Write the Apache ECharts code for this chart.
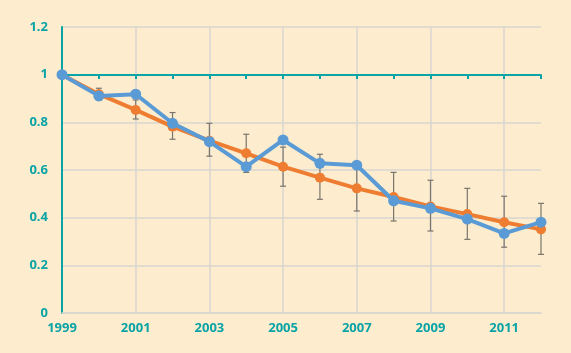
<!DOCTYPE html>
<html><head><meta charset="utf-8">
<script src="https://cdn.jsdelivr.net/npm/echarts@6/dist/echarts.min.js"></script>
<style>html,body{margin:0;padding:0;background:#FDEDCE;}#c{width:571px;height:353px;}</style>
</head><body><div id="c"></div>
<script>
const years = ['1999','2000','2001','2002','2003','2004','2005','2006','2007','2008','2009','2010','2011','2012'];
const trend = [1.0, 0.918, 0.852, 0.782, 0.723, 0.670, 0.614, 0.568, 0.523, 0.487, 0.447, 0.415, 0.381, 0.351];
const observed = [1.0, 0.911, 0.918, 0.796, 0.719, 0.614, 0.726, 0.628, 0.620, 0.471, 0.439, 0.394, 0.334, 0.381];
const errLow = [null, 0.893, 0.814, 0.729, 0.658, 0.590, 0.532, 0.477, 0.428, 0.386, 0.344, 0.309, 0.276, 0.246];
const errHigh = [null, 0.943, 0.894, 0.841, 0.796, 0.750, 0.696, 0.666, 0.618, 0.590, 0.557, 0.523, 0.490, 0.460];
const yTicks = ['0','0.2','0.4','0.6','0.8','1','1.2'];

const teal = '#0AA3A6';
const gridGrey = '#D9D6D0';
const font = '"Open Sans", "Noto Sans", sans-serif';
const errData = years.map((y, i) => [i, errLow[i], errHigh[i]]).filter(d => d[1] !== null);

const chart = echarts.init(document.getElementById('c'), null, {renderer: 'canvas'});
chart.setOption({
  backgroundColor: '#FDEDCE',
  animation: false,
  grid: {left: 62, right: 30, top: 27, bottom: 40, containLabel: false},
  xAxis: [{
    type: 'category', data: years, boundaryGap: false,
    axisLine: {show: true, lineStyle: {color: gridGrey, width: 1.5}},
    axisTick: {show: false},
    axisLabel: {
      interval: (i) => i % 2 === 0,
      color: teal, fontWeight: 'bold', fontSize: 13, fontFamily: font, margin: 9
    },
    splitLine: {show: true, interval: (i) => i % 2 === 0 && i > 0 && i < 13, lineStyle: {color: gridGrey, width: 1.5}}
  }, {
    type: 'category', data: years, boundaryGap: false, position: 'bottom', offset: -238,
    axisLine: {show: true, lineStyle: {color: teal, width: 2}},
    axisTick: {show: true, inside: false, length: 4, interval: 0, lineStyle: {color: teal, width: 2}},
    axisLabel: {show: false},
    splitLine: {show: false}
  }],
  yAxis: {
    type: 'value', min: 0, max: 1.2, interval: 0.2,
    axisLine: {show: true, lineStyle: {color: teal, width: 2}},
    axisTick: {show: false},
    axisLabel: {
      color: teal, fontWeight: 'bold', fontSize: 13, fontFamily: font, margin: 14,
      formatter: (v) => yTicks[Math.round(v / 0.2)]
    },
    splitLine: {show: true, lineStyle: {color: gridGrey, width: 1.5}}
  },
  series: [{
    type: 'custom', z: 1, data: errData,
    renderItem: function (params, api) {
      const x = api.value(0);
      const lo = api.coord([x, api.value(1)]);
      const hi = api.coord([x, api.value(2)]);
      const w = 3;
      const style = {stroke: '#7A746C', lineWidth: 1.2};
      return {type: 'group', children: [
        {type: 'line', shape: {x1: lo[0], y1: lo[1], x2: hi[0], y2: hi[1]}, style: style},
        {type: 'line', shape: {x1: lo[0] - w, y1: lo[1], x2: lo[0] + w, y2: lo[1]}, style: style},
        {type: 'line', shape: {x1: hi[0] - w, y1: hi[1], x2: hi[0] + w, y2: hi[1]}, style: style}
      ]};
    }
  }, {
    type: 'line', data: trend, z: 3,
    symbol: 'circle', symbolSize: 10,
    lineStyle: {color: '#EE7D31', width: 4},
    itemStyle: {color: '#EE7D31'}
  }, {
    type: 'line', data: observed, z: 4,
    symbol: 'circle', symbolSize: 11,
    lineStyle: {color: '#5B9BD5', width: 4},
    itemStyle: {color: '#5B9BD5'}
  }]
});
</script>
</body></html>
